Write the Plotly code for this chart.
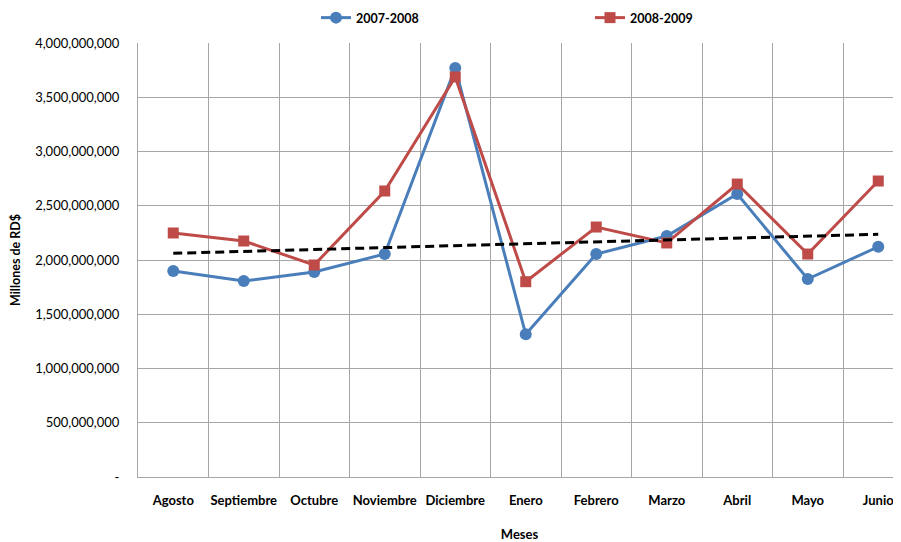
import plotly.graph_objects as go

meses = ["Agosto", "Septiembre", "Octubre", "Noviembre", "Diciembre", "Enero",
         "Febrero", "Marzo", "Abril", "Mayo", "Junio"]
serie_2007_2008 = [1.899e9, 1.806e9, 1.889e9, 2.055e9, 3.770e9, 1.315e9,
                   2.055e9, 2.221e9, 2.608e9, 1.825e9, 2.122e9]
serie_2008_2009 = [2.249e9, 2.175e9, 1.954e9, 2.636e9, 3.687e9, 1.800e9,
                   2.304e9, 2.157e9, 2.700e9, 2.055e9, 2.728e9]
tendencia_meses = ["Agosto", "Junio"]
tendencia_valores = [2.062e9, 2.237e9]
y_ticks = [0, 5e8, 1e9, 1.5e9, 2e9, 2.5e9, 3e9, 3.5e9, 4e9]
y_ticktext = ["-", "500,000,000", "1,000,000,000", "1,500,000,000", "2,000,000,000",
              "2,500,000,000", "3,000,000,000", "3,500,000,000", "4,000,000,000"]

BLUE = "#4A7EBB"
RED = "#BE4B48"
GRID = "#A6A6A6"
FONT = "Lato"

# the page body adds an 8px offset; figure sized to fit the window
W, H = 893, 534
L, T, B = 130, 35, 65
PW = W - L
PH = H - T - B

fig = go.Figure()
fig.add_trace(go.Scatter(
    x=meses, y=serie_2007_2008, name="2007-2008", mode="lines+markers", legend="legend",
    line=dict(color=BLUE, width=3), marker=dict(symbol="circle", size=12, color=BLUE)))
fig.add_trace(go.Scatter(
    x=meses, y=serie_2008_2009, name="2008-2009", mode="lines+markers", legend="legend2",
    line=dict(color=RED, width=3), marker=dict(symbol="square", size=11, color=RED)))
fig.add_trace(go.Scatter(
    x=tendencia_meses, y=tendencia_valores, mode="lines", showlegend=False,
    line=dict(color="black", width=3, dash="9px,5px")))

legfont = dict(family=FONT, size=12.5, color="black", weight="bold")
fig.update_layout(
    width=W, height=H,
    margin=dict(l=L, r=0, t=T, b=B, autoexpand=False),
    paper_bgcolor="white", plot_bgcolor="white",
    font=dict(family=FONT, size=12, color="black"),
    legend=dict(orientation="h", x=(308 - L) / PW, xanchor="left",
                y=1 + (T - 10) / PH, yanchor="middle",
                font=legfont, bgcolor="rgba(0,0,0,0)"),
    legend2=dict(orientation="h", x=(582 - L) / PW, xanchor="left",
                 y=1 + (T - 10) / PH, yanchor="middle",
                 font=legfont, bgcolor="rgba(0,0,0,0)"),
    showlegend=True,
)
fig.update_xaxes(
    type="category", categoryorder="array", categoryarray=meses,
    range=[-0.5, 10.5 - (913.5 - 901) / 70.5],
    tickson="boundaries", showgrid=True, gridcolor=GRID, gridwidth=1,
    ticks="", showline=True, linecolor=GRID, linewidth=1,
    tickangle=0,
    tickfont=dict(family=FONT, size=13, color="black", weight="bold"),
    ticklabeloverflow="allow",
    title=dict(text="Meses", font=dict(family=FONT, size=13, color="black", weight="bold"), standoff=25),
    ticklabelstandoff=11,
)
fig.update_yaxes(
    range=[0, 4e9], tickvals=y_ticks, ticktext=y_ticktext,
    showgrid=True, gridcolor=GRID, gridwidth=1, zeroline=False,
    showline=True, linecolor=GRID, linewidth=1, ticks="",
    tickfont=dict(family=FONT, size=13, color="black"),
    ticklabelstandoff=15,
    title=dict(text="Millones de RD$", font=dict(family=FONT, size=12.5, color="black", weight="bold"), standoff=16),
)

fig.write_html("out.html")
